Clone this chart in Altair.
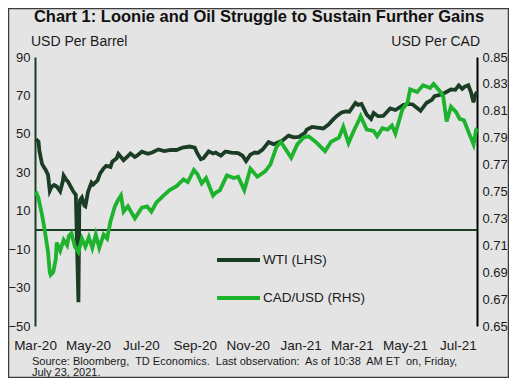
import altair as alt
import pandas as pd

# ---------------- data ----------------
wti_dates = [
    "2020-03-02", "2020-03-05", "2020-03-06", "2020-03-09", "2020-03-11", "2020-03-13",
    "2020-03-16", "2020-03-18", "2020-03-20", "2020-03-23", "2020-03-26", "2020-03-30",
    "2020-04-02", "2020-04-03", "2020-04-06", "2020-04-08", "2020-04-14", "2020-04-17",
    "2020-04-20", "2020-04-21", "2020-04-22", "2020-04-24", "2020-04-27", "2020-04-28",
    "2020-05-01", "2020-05-05", "2020-05-07", "2020-05-12", "2020-05-15", "2020-05-19",
    "2020-05-22", "2020-05-27", "2020-05-29", "2020-06-03", "2020-06-05", "2020-06-11",
    "2020-06-16", "2020-06-19", "2020-06-24", "2020-06-26", "2020-07-02", "2020-07-09",
    "2020-07-14", "2020-07-21", "2020-07-28", "2020-08-04", "2020-08-11", "2020-08-18",
    "2020-08-26", "2020-09-01", "2020-09-04", "2020-09-08", "2020-09-11", "2020-09-17",
    "2020-09-22", "2020-09-25", "2020-10-01", "2020-10-06", "2020-10-09", "2020-10-13",
    "2020-10-21", "2020-10-26", "2020-10-30", "2020-11-04", "2020-11-09", "2020-11-13",
    "2020-11-18", "2020-11-25", "2020-12-01", "2020-12-07", "2020-12-11", "2020-12-18",
    "2020-12-24", "2020-12-30", "2021-01-06", "2021-01-08", "2021-01-14", "2021-01-20",
    "2021-01-27", "2021-02-02", "2021-02-08", "2021-02-12", "2021-02-17", "2021-02-22",
    "2021-02-26", "2021-03-05", "2021-03-08", "2021-03-12", "2021-03-18", "2021-03-23",
    "2021-03-26", "2021-03-31", "2021-04-06", "2021-04-14", "2021-04-20", "2021-04-29",
    "2021-05-05", "2021-05-10", "2021-05-19", "2021-05-26", "2021-06-01", "2021-06-04",
    "2021-06-10", "2021-06-14", "2021-06-23", "2021-06-28", "2021-07-02", "2021-07-06",
    "2021-07-09", "2021-07-13", "2021-07-16", "2021-07-19", "2021-07-21", "2021-07-23",
]
wti_values = [
    47.2, 45.9, 41.3, 34.5, 32.9, 31.5,
    28.7, 20.4, 22.4, 23.4, 22.6, 20.1,
    25.3, 28.3, 26.1, 25.1, 20.1, 18.3,
    -37.6, 11.6, 15.6, 16.9, 12.6, 12.3,
    19.8, 24.6, 23.6, 25.8, 29.4, 32.0,
    33.3, 32.8, 35.5, 37.3, 39.6, 36.3,
    38.4, 39.8, 38.0, 38.5, 40.7, 39.6,
    40.3, 41.9, 41.0, 41.7, 41.6, 42.9,
    43.4, 42.8, 39.8, 36.8, 37.3, 40.9,
    39.8, 40.3, 38.7, 40.7, 40.6, 40.2,
    40.0, 38.6, 35.8, 39.2, 40.3, 40.1,
    41.8, 45.7, 44.6, 45.8, 46.6, 49.1,
    48.2, 48.4, 50.6, 52.2, 53.6, 53.3,
    52.8, 54.8, 57.8, 59.5, 61.1, 61.7,
    61.5, 66.1, 65.1, 65.6, 60.0, 57.8,
    60.9, 59.2, 59.3, 63.2, 62.4, 65.0,
    65.6, 65.3, 62.0, 66.2, 67.7, 69.6,
    70.3, 70.9, 73.1, 72.9, 75.2, 73.4,
    74.6, 75.3, 71.8, 66.4, 70.3, 71.8,
]

cad_dates = [
    "2020-03-02", "2020-03-05", "2020-03-09", "2020-03-12", "2020-03-16", "2020-03-18",
    "2020-03-19", "2020-03-22", "2020-03-25", "2020-03-26", "2020-03-30", "2020-04-03",
    "2020-04-07", "2020-04-09", "2020-04-12", "2020-04-16", "2020-04-20", "2020-04-24",
    "2020-04-28", "2020-05-02", "2020-05-06", "2020-05-10", "2020-05-14", "2020-05-19",
    "2020-05-23", "2020-05-27", "2020-06-01", "2020-06-05", "2020-06-08", "2020-06-11",
    "2020-06-16", "2020-06-24", "2020-07-02", "2020-07-08", "2020-07-13", "2020-07-19",
    "2020-07-27", "2020-08-03", "2020-08-11", "2020-08-19", "2020-08-24", "2020-08-31",
    "2020-09-04", "2020-09-09", "2020-09-14", "2020-09-22", "2020-09-25", "2020-09-30",
    "2020-10-08", "2020-10-16", "2020-10-21", "2020-10-28", "2020-11-04", "2020-11-12",
    "2020-11-21", "2020-11-27", "2020-12-04", "2020-12-09", "2020-12-15", "2020-12-21",
    "2020-12-28", "2021-01-04", "2021-01-10", "2021-01-18", "2021-01-29", "2021-02-05",
    "2021-02-14", "2021-02-19", "2021-02-25", "2021-03-03", "2021-03-09", "2021-03-11",
    "2021-03-18", "2021-03-26", "2021-03-30", "2021-04-05", "2021-04-11", "2021-04-16",
    "2021-04-20", "2021-04-28", "2021-05-04", "2021-05-07", "2021-05-15", "2021-05-22",
    "2021-05-30", "2021-06-03", "2021-06-11", "2021-06-14", "2021-06-18", "2021-06-23",
    "2021-06-29", "2021-07-03", "2021-07-08", "2021-07-14", "2021-07-19", "2021-07-22",
    "2021-07-23",
]
cad_values = [
    0.750, 0.745, 0.733, 0.722, 0.705, 0.690,
    0.688, 0.690, 0.700, 0.712, 0.706, 0.714,
    0.710, 0.717, 0.719, 0.709, 0.705, 0.715,
    0.709, 0.716, 0.708, 0.718, 0.708, 0.718,
    0.715, 0.728, 0.739, 0.744, 0.747, 0.735,
    0.739, 0.730, 0.738, 0.739, 0.735, 0.742,
    0.747, 0.751, 0.754, 0.759, 0.757, 0.766,
    0.763, 0.756, 0.760, 0.747, 0.749, 0.751,
    0.762, 0.760, 0.761, 0.751, 0.767, 0.761,
    0.765, 0.770, 0.783, 0.787, 0.781, 0.775,
    0.785, 0.790, 0.791, 0.787, 0.780, 0.787,
    0.790, 0.798, 0.786, 0.795, 0.803, 0.806,
    0.796, 0.795, 0.791, 0.797, 0.796, 0.799,
    0.793, 0.811, 0.816, 0.826, 0.824, 0.829,
    0.827, 0.830, 0.824, 0.821, 0.802, 0.813,
    0.809, 0.804, 0.803, 0.793, 0.785, 0.796,
    0.797,
]

left_ticks = [-50, -30, -10, 10, 30, 50, 70, 90]
right_ticks = [0.65, 0.67, 0.69, 0.71, 0.73, 0.75, 0.77, 0.79, 0.81, 0.83, 0.85]
x_tick_months = [(2020, 3), (2020, 5), (2020, 7), (2020, 9), (2020, 11),
                 (2021, 1), (2021, 3), (2021, 5), (2021, 7)]

title_text = "Chart 1: Loonie and Oil Struggle to Sustain Further Gains"
left_title = "USD Per Barrel"
right_title = "USD Per CAD"
legend_labels = ["WTI (LHS)", "CAD/USD (RHS)"]
NB = "\u00a0"
source_lines = [
    f"Source: Bloomberg,{NB} TD Economics.{NB} Last observation:{NB} As of 10:38{NB} AM ET{NB} on, Friday,",
    "July 23, 2021.",
]

# ---------------- styling ----------------
FONT = "Liberation Sans"
WTI_COLOR = "#1b3d25"
CAD_COLOR = "#1db32d"
BG = "#e4e4e4"
W, H = 442, 269

wti_df = pd.DataFrame({"date": wti_dates, "value": wti_values})
cad_df = pd.DataFrame({"date": cad_dates, "value": cad_values})

x_enc = alt.X(
    "date:T",
    scale=alt.Scale(domain=[alt.DateTime(year=2020, month=3, date=1),
                            alt.DateTime(year=2021, month=7, date=23)]),
    axis=alt.Axis(
        title=None,
        values=[alt.DateTime(year=y, month=m, date=1) for y, m in x_tick_months],
        format="%b-%y",
        domain=False,
        ticks=False,
        grid=False,
        labelFont=FONT,
        labelFontSize=13.5,
        labelColor="#1a1a1a",
        labelPadding=12,
        labelFlush=False,
        labelOverlap=False,
    ),
)

left_axis = alt.Axis(
    title=None,
    orient="left",
    values=left_ticks,
    domain=True,
    domainColor=WTI_COLOR,
    domainWidth=2,
    ticks=False,
    grid=False,
    labelFont=FONT,
    labelFontSize=13,
    labelColor="#1a1a1a",
    labelPadding=5,
    labelOverlap=False,
    labelFlush=False,
)
left_scale = alt.Scale(domain=[-50, 90], nice=False, zero=False)

wti_line = alt.Chart(wti_df).mark_line(color=WTI_COLOR, strokeWidth=3.8).encode(
    x=x_enc,
    y=alt.Y("value:Q", scale=left_scale, axis=left_axis),
)

zero_rule = alt.Chart(pd.DataFrame({"value": [0]})).mark_rule(
    color=WTI_COLOR, strokeWidth=2
).encode(y=alt.Y("value:Q", scale=left_scale, axis=left_axis))

left_layer = alt.layer(zero_rule, wti_line)

cad_line = alt.Chart(cad_df).mark_line(color=CAD_COLOR, strokeWidth=3.8).encode(
    x=x_enc,
    y=alt.Y(
        "value:Q",
        scale=alt.Scale(domain=[0.65, 0.85], nice=False, zero=False),
        axis=alt.Axis(
            title=None,
            orient="right",
            values=right_ticks,
            format=".2f",
            domain=True,
            domainColor="#000000",
            domainWidth=2,
            ticks=False,
            grid=False,
            labelFont=FONT,
            labelFontSize=13,
            labelColor="#1a1a1a",
            labelPadding=5,
            labelOverlap=False,
            labelFlush=False,
        ),
    ),
)

one = pd.DataFrame({"k": [0]})


def label(text, x, y, size, align="left", weight="normal", baseline="alphabetic", color="#1a1a1a"):
    return alt.Chart(one).mark_text(
        text=text, font=FONT, fontSize=size, fontWeight=weight, align=align,
        baseline=baseline, color=color,
    ).encode(x=alt.value(x), y=alt.value(y))


title = label(title_text, 224, -35, 16.5, align="center", weight="bold", color="#111111")
lt = label(left_title, -4, -11, 14)
rt = label(right_title, 445, -11, 14, align="right")
src1 = label(source_lines[0], -3, 308, 11)
src2 = label(source_lines[1], -3, 319, 11)

leg_wti = alt.Chart(one).mark_rule(color=WTI_COLOR, strokeWidth=4).encode(
    x=alt.value(182), x2=alt.value(225), y=alt.value(203))
leg_cad = alt.Chart(one).mark_rule(color=CAD_COLOR, strokeWidth=4).encode(
    x=alt.value(182), x2=alt.value(225), y=alt.value(241))
leg_t1 = label(legend_labels[0], 228, 203, 13.5, baseline="middle")
leg_t2 = label(legend_labels[1], 228, 241, 13.5, baseline="middle")

border = alt.Chart(one).mark_rect(fill=None, stroke="#3c3c3c", strokeWidth=1.5, clip=False).encode(
    x=alt.value(-26.5), x2=alt.value(473.5), y=alt.value(-48.5), y2=alt.value(320.5))

chart = alt.layer(
    left_layer, cad_line,
    title, lt, rt, src1, src2, leg_wti, leg_cad, leg_t1, leg_t2, border,
).resolve_scale(y="independent").properties(
    width=W, height=H,
    background=BG,
    padding={"left": 27, "top": 49, "right": 32, "bottom": 52},
    autosize=alt.AutoSizeParams(type="none"),
).configure_view(strokeWidth=0).configure_axis(labelOverlap=False)

chart.save("out.html", embed_options={"renderer": "svg", "actions": False})
